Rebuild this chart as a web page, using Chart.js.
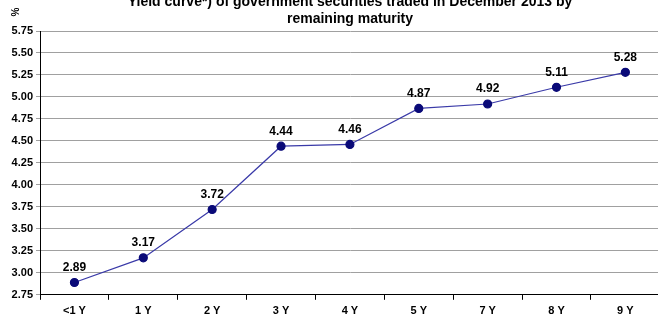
<!DOCTYPE html>
<html>
<head>
<meta charset="utf-8">
<script src="https://cdn.jsdelivr.net/npm/chart.js@4.4.0/dist/chart.umd.min.js"></script>
<style>
  html, body { margin: 0; padding: 0; background: #fff; overflow: hidden; }
  /* the plot runs past the right edge in the original, so the canvas is a bit wider than the window */
  #wrap { width: 665px; height: 322px; }
</style>
</head>
<body>
<div id="wrap"><canvas id="yieldChart"></canvas></div>
<script>
// maturities and yields
const maturities = ['<1 Y', '1 Y', '2 Y', '3 Y', '4 Y', '5 Y', '7 Y', '8 Y', '9 Y'];
const yields = [2.89, 3.17, 3.72, 4.44, 4.46, 4.87, 4.92, 5.11, 5.28];
const titleLines = ['Yield curve*) of government securities traded in December 2013 by', 'remaining maturity'];
const yMin = 2.75, yMax = 5.75, yStep = 0.25;

const FONT = '"Liberation Sans", Arial, sans-serif';

// title, % unit and value labels drawn on top of the chart
const extras = {
    id: 'extras',
    afterDatasetsDraw: (chart) => {
        const ctx = chart.ctx;
        ctx.save();
        ctx.fillStyle = '#000';
        ctx.textAlign = 'center';
        ctx.textBaseline = 'middle';
        ctx.font = 'bold 14px ' + FONT;
        ctx.fillText(titleLines[0], 350, 2);
        ctx.fillText(titleLines[1], 350, 19);

        // value labels
        ctx.font = 'bold 12px ' + FONT;
        const meta = chart.getDatasetMeta(0);
        meta.data.forEach((pt, i) => {
            ctx.fillText(yields[i].toFixed(2), pt.x, pt.y - 15);
        });

        // rotated unit
        ctx.translate(16, 12);
        ctx.rotate(-Math.PI / 2);
        ctx.font = 'bold 10px ' + FONT;
        ctx.fillText('%', 0, 0);
        ctx.restore();
    }
};

new Chart(document.getElementById('yieldChart'), {
    type: 'line',
    data: {
        labels: maturities,
        datasets: [{
            data: yields,
            borderColor: '#3a3aa8',
            borderWidth: 1.2,
            backgroundColor: '#0a0a78',
            pointBackgroundColor: '#0a0a78',
            pointBorderColor: '#0a0a78',
            pointRadius: 4,
            tension: 0
        }]
    },
    options: {
        responsive: true,
        maintainAspectRatio: false,
        animation: false,
        layout: { padding: { top: 31, right: 0, left: 0, bottom: 0 } },
        plugins: { legend: { display: false }, tooltip: { enabled: false } },
        scales: {
            x: {
                offset: true,
                grid: { display: true, drawOnChartArea: false, offset: true, color: '#000', tickLength: 5 },
                border: { color: '#000', width: 1 },
                ticks: { color: '#000', font: { family: FONT, size: 11, weight: 'bold' }, padding: 4.5, maxRotation: 0 }
            },
            y: {
                min: yMin,
                max: yMax,
                afterFit: (s) => { s.width = 40; },
                grid: { color: '#a0a0a0', tickLength: 4, drawTicks: true },
                border: { color: '#000', width: 1 },
                ticks: {
                    stepSize: yStep,
                    color: '#000',
                    font: { family: FONT, size: 11, weight: 'bold' },
                    padding: 3,
                    callback: (v) => v.toFixed(2)
                }
            }
        }
    },
    plugins: [extras]
});
</script>
</body>
</html>
